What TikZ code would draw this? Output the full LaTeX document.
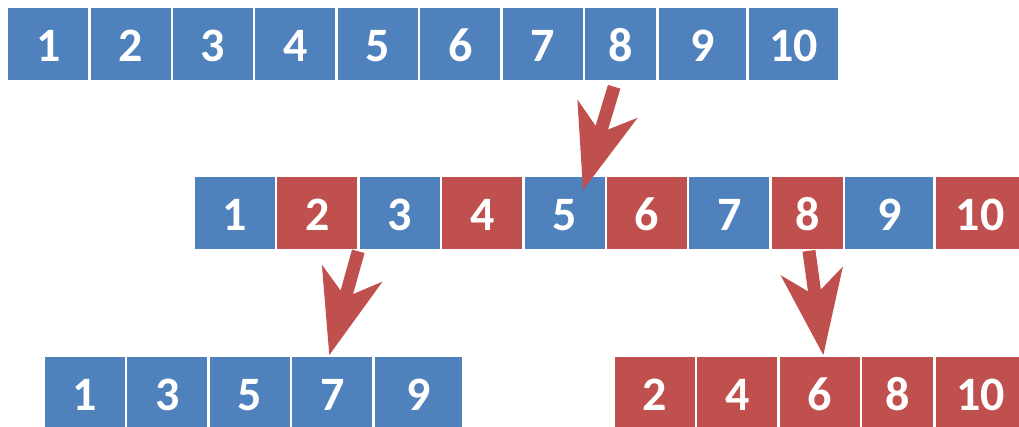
\documentclass[tikz,border=0pt]{standalone}
\usepackage{fontspec}
\setmainfont{Carlito}
\usetikzlibrary{arrows.meta,positioning,calc}
\definecolor{cblue}{HTML}{4F81BD}
\definecolor{cred}{HTML}{C0504D}

\begin{document}
\begin{tikzpicture}[x=1pt,y=-1pt,
    cell/.style={rectangle,draw=white,line width=2.4pt,outer sep=0pt,inner sep=0pt,
      minimum height=74pt,text height=34.5pt,text depth=0pt,text=white,
      font=\fontsize{48}{50}\selectfont\bfseries},
    bigarrow/.style={draw=cred,line width=13pt,
      -{Stealth[length=85pt,width=63pt,inset=25pt,line width=0pt]}}]
  \useasboundingbox (0,0) rectangle (1019,426);
  % start points of the four rows
  \coordinate (t0) at (7,44.15);
  \coordinate (m0) at (193.8,212.8);
  \coordinate (o0) at (43.8,393.1);
  \coordinate (e0) at (613.8,393.1);
  % top row
  \foreach \n/\w [remember=\n as \p (initially 0)] in
      {1/82.4,2/82.4,3/82.4,4/82.4,5/82.4,6/82.4,7/82.4,8/73.5,9/90.2,10/92} {
    \node[cell,fill=cblue,minimum width={\w pt},right=0pt of t\p] (t\n) {\n};
  }
  % middle row
  \foreach \n/\c/\w [remember=\n as \p (initially 0)] in
      {1/cblue/82.4,2/cred/82.4,3/cblue/82.4,4/cred/82.4,5/cblue/82.4,
       6/cred/82.4,7/cblue/82.4,8/cred/73.5,9/cblue/90.2,10/cred/92} {
    \node[cell,fill=\c,minimum width={\w pt},right=0pt of m\p] (m\n) {\n};
  }
  % odd and even halves
  \foreach \n/\w [remember=\n as \p (initially 0)] in {1/82.4,3/82.4,5/82.4,7/82.4,9/90.2} {
    \node[cell,fill=cblue,minimum width={\w pt},right=0pt of o\p] (o\n) {\n};
  }
  \foreach \n/\w [remember=\n as \p (initially 0)] in {2/82.4,4/82.4,6/82.4,8/73.5,10/92} {
    \node[cell,fill=cred,minimum width={\w pt},right=0pt of e\p] (e\n) {\n};
  }
  % arrows
  \coordinate (a1) at ($(t8.south)+(-6.4,5.6)$);
  \coordinate (b1) at ($(m5.north)+(18.4,14.2)$);
  \coordinate (a2) at ($(m2.south east)+(-0.3,1.5)$);
  \coordinate (b2) at ($(o7.north)+(-2.9,-1.1)$);
  \coordinate (a3) at ($(m8.south)+(1.6,1)$);
  \coordinate (b3) at ($(e6.north)+(3.5,-1.1)$);
  \draw[bigarrow] (a1) -- (b1);
  \draw[bigarrow] (a2) -- (b2);
  \draw[bigarrow] (a3) -- (b3);
\end{tikzpicture}
\end{document}
